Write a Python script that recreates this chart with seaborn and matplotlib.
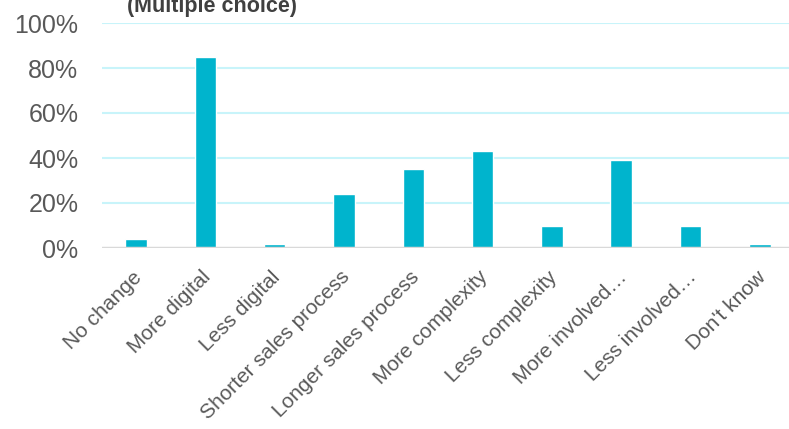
import matplotlib
matplotlib.use("Agg")
import matplotlib.pyplot as plt
import matplotlib.transforms as mtransforms
import seaborn as sns
import pandas as pd

categories = ["No change", "More digital", "Less digital", "Shorter sales process",
              "Longer sales process", "More complexity", "Less complexity",
              "More involved…", "Less involved…", "Don't know"]
values = [4, 85, 2, 24, 35, 43, 10, 39, 10, 2]
yticks = [0, 20, 40, 60, 80, 100]
ytick_labels = ["0%", "20%", "40%", "60%", "80%", "100%"]
title = "(Multiple choice)"

sns.set_theme(style="white")
plt.rcParams['font.family'] = ['Liberation Sans', 'DejaVu Sans']

df = pd.DataFrame({"cat": categories, "val": values})

fig = plt.figure(figsize=(7.89, 4.29), dpi=100)
ax = fig.add_axes([102/789, 181/429, 1 - 102/789, (248-23)/429])

sns.barplot(data=df, x="cat", y="val", color="#00b4cd", width=0.31, ax=ax,
            saturation=1, zorder=3)

ax.set_ylim(0, 100)
ax.set_xlim(-0.49, 9.42)
ax.set_yticks(yticks)
ax.set_yticklabels(ytick_labels, fontsize=18, color="#595959")
for y in yticks[1:]:
    ax.axhline(y, color="#c8f4fa", lw=1.5, zorder=1)
ax.axhline(0, color="#d9d9d9", lw=2.5, zorder=4)
ax.set_xticks(range(len(categories)))
ax.set_xticklabels(categories, rotation=45, ha="right", rotation_mode="anchor",
                   fontsize=15, color="#595959")
ax.tick_params(axis="x", length=0, pad=14)
ax.tick_params(axis="y", length=0, pad=17)
offset = mtransforms.ScaledTranslation(-4/100, 0, fig.dpi_scale_trans)
for lab in ax.get_xticklabels():
    lab.set_transform(lab.get_transform() + offset)
ax.set_xlabel("")
ax.set_ylabel("")
for s in ax.spines.values():
    s.set_visible(False)

fig.text(212/789, 1 - 12/429, title, ha="center", va="baseline", fontsize=15.5,
         fontweight="bold", color="#404040")

fig.savefig("out.png", dpi=100)
